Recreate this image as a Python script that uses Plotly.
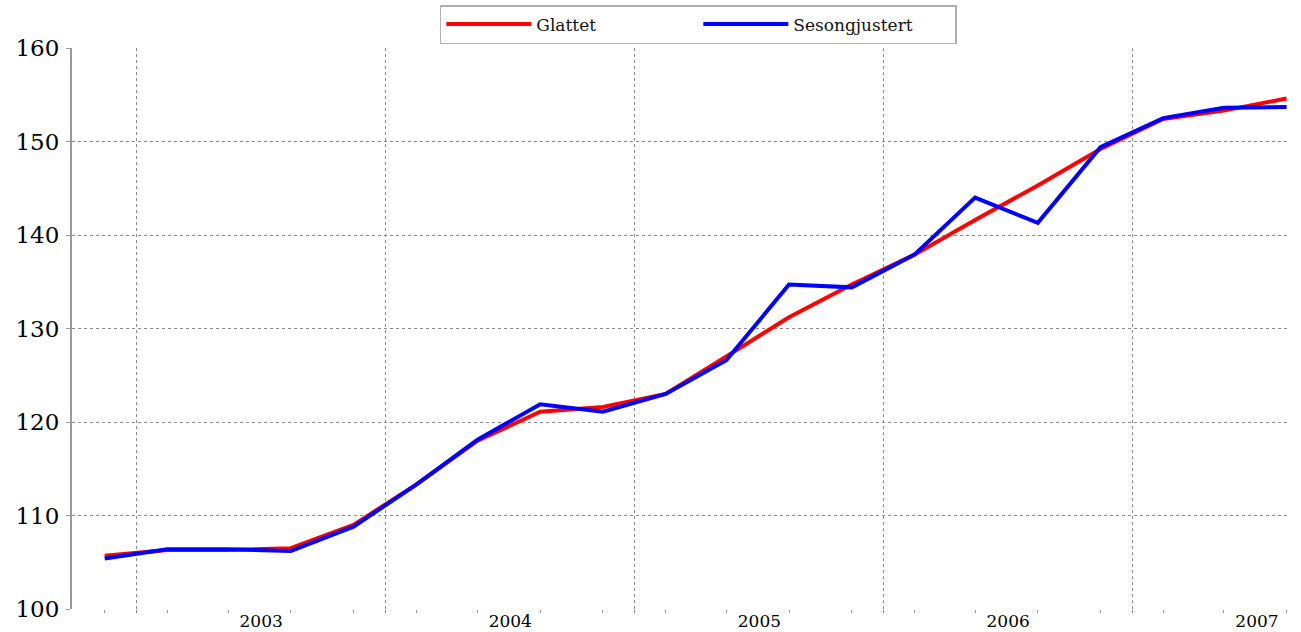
import plotly.graph_objects as go

# quarterly points, plotted at mid-quarter
quarters = [
    "2002-11-15", "2003-02-15", "2003-05-15", "2003-08-15", "2003-11-15",
    "2004-02-15", "2004-05-15", "2004-08-15", "2004-11-15",
    "2005-02-15", "2005-05-15", "2005-08-15", "2005-11-15",
    "2006-02-15", "2006-05-15", "2006-08-15", "2006-11-15",
    "2007-02-15", "2007-05-15", "2007-08-15",
]
glattet = [
    105.7, 106.3, 106.3, 106.5, 109.0,
    113.3, 118.0, 121.1, 121.6,
    123.0, 127.0, 131.2, 134.7,
    137.9, 141.6, 145.3, 149.2,
    152.4, 153.3, 154.6,
]
sesongjustert = [
    105.4, 106.4, 106.4, 106.2, 108.8,
    113.3, 118.1, 121.9, 121.1,
    123.0, 126.6, 134.7, 134.4,
    137.9, 144.0, 141.3, 149.4,
    152.5, 153.6, 153.7,
]
y_ticks = [100, 110, 120, 130, 140, 150, 160]

SERIF = "DejaVu Serif"

fig = go.Figure()
fig.add_trace(go.Scatter(
    x=quarters, y=glattet, name="Glattet", mode="lines",
    line=dict(color="#ff0000", width=4),
))
fig.add_trace(go.Scatter(
    x=quarters, y=sesongjustert, name="Sesongjustert", mode="lines",
    line=dict(color="#0000ff", width=4),
))

fig.update_layout(
    width=1301,
    height=632,
    margin=dict(l=72, r=11, t=48, b=23),
    paper_bgcolor="white",
    plot_bgcolor="white",
    font=dict(family=SERIF, color="#000"),
    showlegend=True,
    legend=dict(
        orientation="h",
        x=0.302, xanchor="left",
        yref="container", y=0.992, yanchor="top",
        bordercolor="#b0b0b0", borderwidth=1.5,
        font=dict(family=SERIF, size=17, color="#111"),
        entrywidth=157,
        itemwidth=85,
    ),
    xaxis=dict(
        type="date",
        range=["2002-09-28", "2007-08-20"],
        dtick="M12",
        tick0="2003-01-01",
        tickformat="%Y",
        ticklabelmode="period",
        ticklabelstandoff=-6,
        showgrid=True,
        gridcolor="#8a8a8a",
        griddash="dot",
        gridwidth=1,
        ticks="outside",
        ticklen=3,
        tickcolor="#888",
        tickfont=dict(family=SERIF, size=17, color="#000"),
        zeroline=False,
        showline=False,
        automargin=False,
        minor=dict(tickvals=quarters, ticks="outside", ticklen=3, tickcolor="#999", showgrid=False),
    ),
    yaxis=dict(
        range=[100, 160],
        tickvals=y_ticks,
        showgrid=True,
        gridcolor="#8a8a8a",
        griddash="dot",
        gridwidth=1,
        ticks="outside",
        ticklen=4,
        ticklabelstandoff=2,
        tickcolor="#999",
        tickfont=dict(family=SERIF, size=23, color="#000"),
        showline=True,
        linecolor="#999",
        linewidth=2,
        zeroline=False,
        automargin=False,
    ),
)

# drop the browser's default body margin so the figure fills the window exactly
fig.write_html(
    "out.html",
    config={"displayModeBar": False},
    post_script="document.body.style.margin = '0';",
)
